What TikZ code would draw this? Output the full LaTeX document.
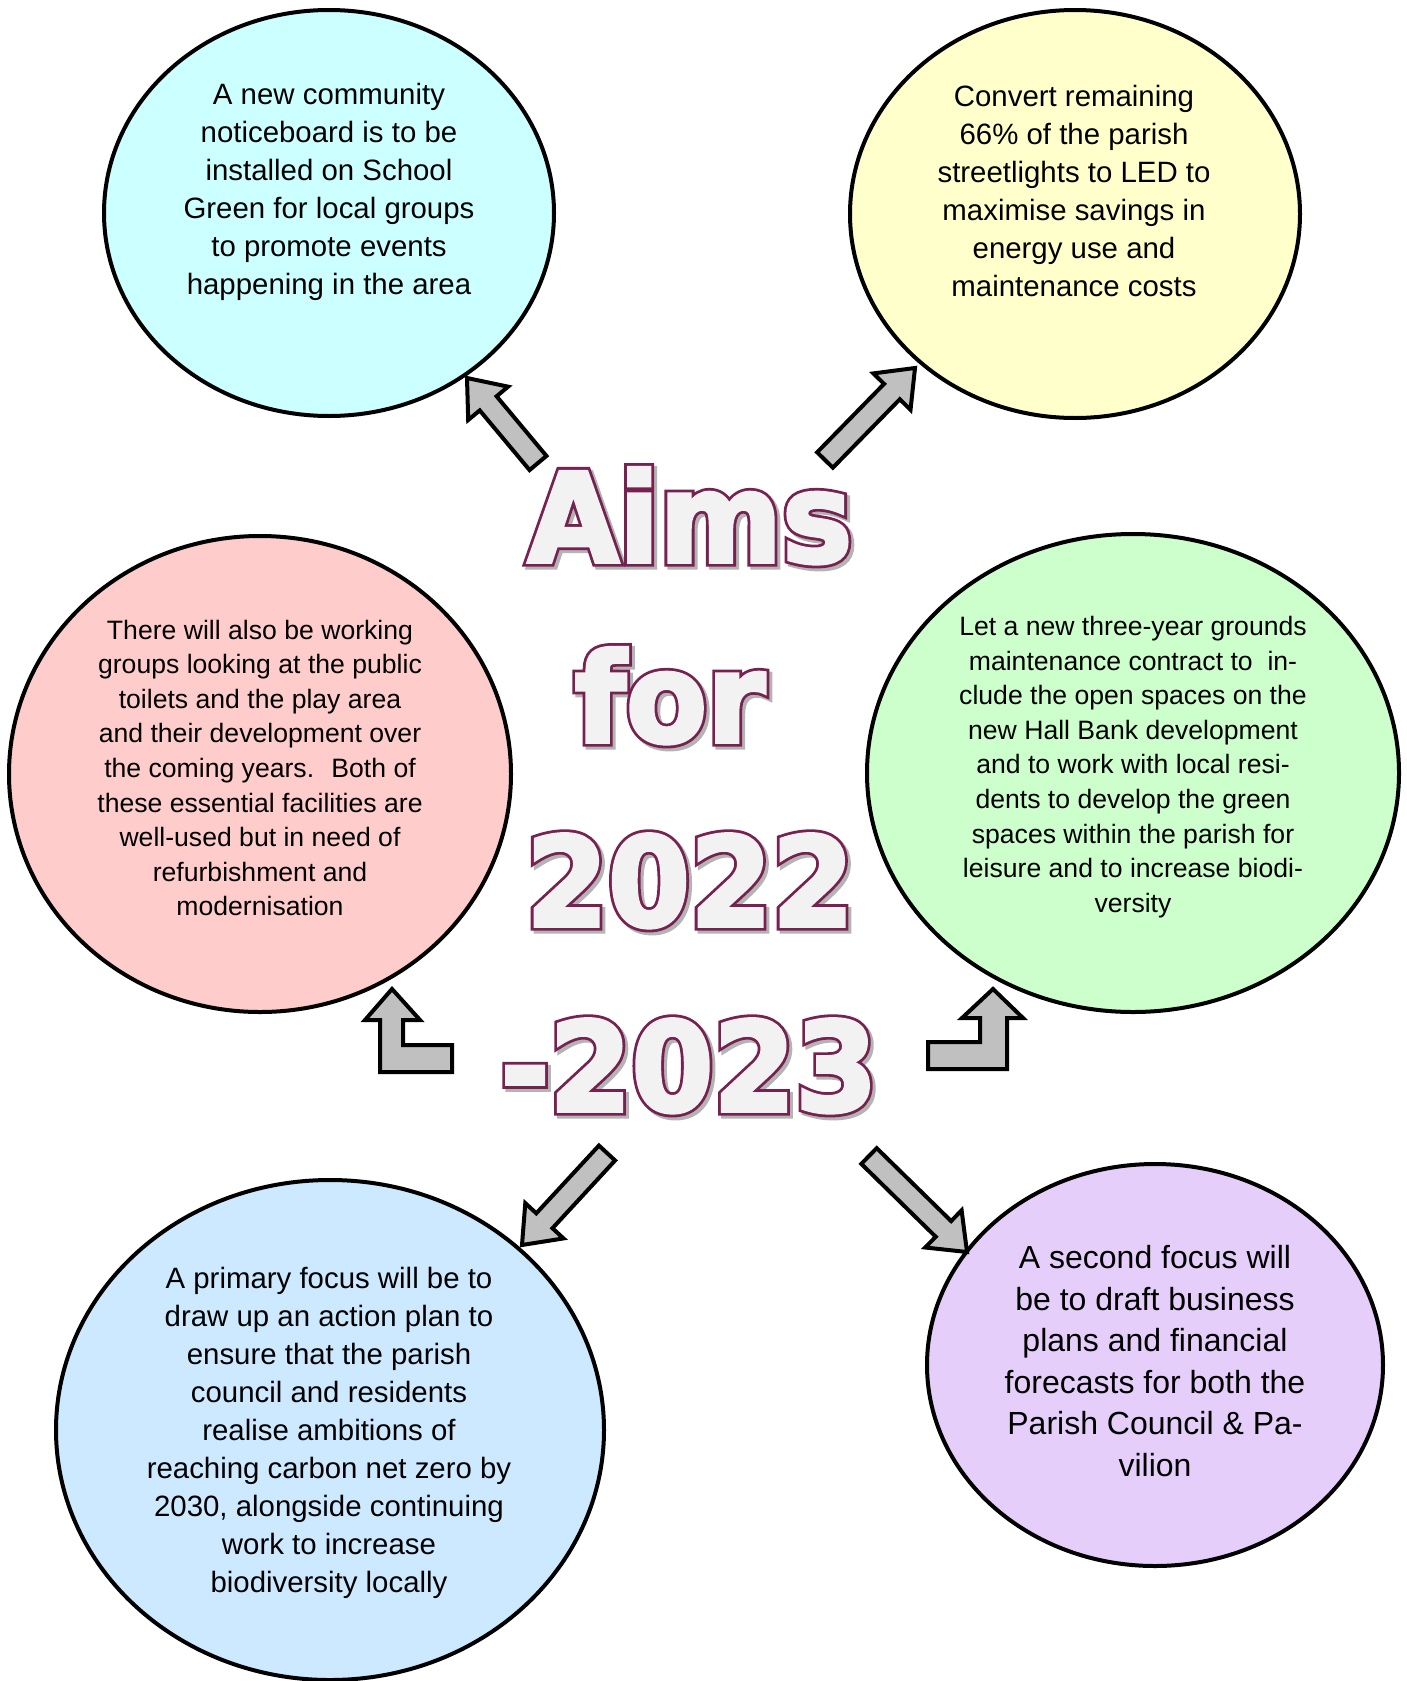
\documentclass[tikz,border=0pt]{standalone}
\usepackage{fontspec}
\setmainfont{Liberation Sans}
\newfontfamily\titlefill{DejaVu Sans Bold}[FakeStretch=0.95,FakeBold=3]
\newfontfamily\titleedge{DejaVu Sans Bold}[FakeStretch=0.95,FakeBold=7.5]
\usetikzlibrary{calc,shapes.geometric}
\definecolor{bubblecyan}{HTML}{CCFFFF}
\definecolor{bubbleyellow}{HTML}{FFFFCC}
\definecolor{bubblepink}{HTML}{FFCCCC}
\definecolor{bubblegreen}{HTML}{CCFFCC}
\definecolor{bubbleblue}{HTML}{CCE9FF}
\definecolor{bubblepurple}{HTML}{E6CEFA}
\definecolor{arrowgrey}{HTML}{C0C0C0}
\definecolor{titlerim}{HTML}{772150}
\definecolor{titlebody}{HTML}{F2F2F2}
\definecolor{titleshade}{HTML}{B4B4B4}
\tikzset{
  aimbubble/.style={
    ellipse,
    draw=black, line width=4pt,
    inner sep=0pt},
  aimtext/.style={align=center, text=black, inner sep=0pt},
  bigtext/.style={aimtext, font=\fontsize{29.4}{38}\selectfont},
  smalltext/.style={aimtext, font=\fontsize{26.6}{34.6}\selectfont},
  widetext/.style={aimtext, font=\fontsize{32}{41.6}\selectfont},
  arrowbody/.style={draw=black, line width=4pt, fill=arrowgrey, line join=miter},
  titlefront/.style={anchor=base, inner sep=0pt,
    font=\titlefill\fontsize{124}{124}\selectfont, text=titlebody},
  titlerimline/.style={anchor=base, inner sep=0pt,
    font=\titleedge\fontsize{124}{124}\selectfont, text=titlerim},
  titleshadow/.style={anchor=base, inner sep=0pt,
    font=\titleedge\fontsize{124}{124}\selectfont, text=titleshade},
}
% one line of the outlined title
\newcommand{\titleline}[3]{%
  \node[titleshadow] at ($(#2)+(3,3)$) {#3};
  \node[titlerimline] at (#2) {#3};
  \node[titlefront] (#1) at (#2) {#3};
}
% straight block arrow from tail to tip
\newcommand{\blockarrow}[2]{%
  \coordinate (headbase) at ($(#2)!33pt!(#1)$);
  \draw[arrowbody] ($(#1)!11pt!90:(#2)$) -- ($(headbase)!11pt!90:(#2)$)
    -- ($(headbase)!26pt!90:(#2)$) -- (#2) -- ($(headbase)!26pt!-90:(#2)$)
    -- ($(headbase)!11pt!-90:(#2)$) -- ($(#1)!11pt!-90:(#2)$) -- cycle;
}

\begin{document}
\begin{tikzpicture}[x=1pt, y=-1pt]
  \fill[white] (0,0) rectangle (1407,1681);
  \useasboundingbox (0,0) rectangle (1407,1681);

  % bubbles
  \node[aimbubble, fill=bubblecyan, minimum width=450, minimum height=406] (notice) at (329,213) {};
  \node[aimbubble, fill=bubbleyellow, minimum width=450, minimum height=408] (led) at (1075,214) {};
  \node[aimbubble, fill=bubblepink, minimum width=502, minimum height=476] (toilets) at (260,774) {};
  \node[aimbubble, fill=bubblegreen, minimum width=532, minimum height=478] (grounds) at (1133,773) {};
  \node[aimbubble, fill=bubbleblue, minimum width=548, minimum height=500] (carbon) at (330,1430) {};
  \node[aimbubble, fill=bubblepurple, minimum width=456, minimum height=402] (business) at (1155,1365) {};

  % texts
  \node[bigtext] (noticetext) at (329,192) {A new community\\noticeboard is to be\\installed on School\\Green for local groups\\to promote events\\happening in the area};
  \node[bigtext] (ledtext) at (1074,191) {Convert remaining\\66\% of the parish\\streetlights to LED to\\maximise savings in\\energy use and\\maintenance costs};
  \node[smalltext] (toiletstext) at (260,768) {There will also be working\\groups looking at the public\\toilets and the play area\\and their development over\\the coming years.~ Both of\\these essential facilities are\\well-used but in need of\\refurbishment and\\modernisation};
  \node[smalltext] (groundstext) at (1133,767) {Let a new three-year grounds\\maintenance contract to~ in-\\clude the open spaces on the\\new Hall Bank development\\and to work with local resi-\\dents to develop the green\\spaces within the parish for\\leisure and to increase biodi-\\versity};
  \node[bigtext] (carbontext) at (329,1433) {A primary focus will be to\\draw up an action plan to\\ensure that the parish\\council and residents\\realise ambitions of\\reaching carbon net zero by\\2030, alongside continuing\\work to increase\\biodiversity locally};
  \node[widetext] (businesstext) at (1155,1361) {A second focus will\\be to draft business\\plans and financial\\forecasts for both the\\Parish Council \& Pa-\\vilion};

  % title
  \titleline{aims}{690,562}{Aims}
  \titleline{for}{670,742}{for}
  \titleline{start}{690,926}{2022}
  \titleline{finish}{689,1111}{-2023}

  % straight arrows
  \coordinate (noticetail) at (538,463);
  \coordinate (noticetip) at (467,378);
  \coordinate (ledtail) at (825,460);
  \coordinate (ledtip) at (915,368);
  \coordinate (carbontail) at (607,1153);
  \coordinate (carbontip) at (522,1245);
  \coordinate (businesstail) at (869,1156);
  \coordinate (businesstip) at (967,1252);
  \blockarrow{noticetail}{noticetip}
  \blockarrow{ledtail}{ledtip}
  \blockarrow{carbontail}{carbontip}
  \blockarrow{businesstail}{businesstip}

  % bent arrows
  \draw[arrowbody] (392,989) -- (420,1020) -- (403,1020) -- (403,1045) -- (452,1045)
    -- (452,1072) -- (380,1072) -- (380,1020) -- (365,1020) -- cycle;
  \draw[arrowbody] (993,989) -- (1023,1018) -- (1007,1018) -- (1007,1069) -- (928,1069)
    -- (928,1042) -- (980,1042) -- (980,1018) -- (962,1018) -- cycle;
\end{tikzpicture}
\end{document}
